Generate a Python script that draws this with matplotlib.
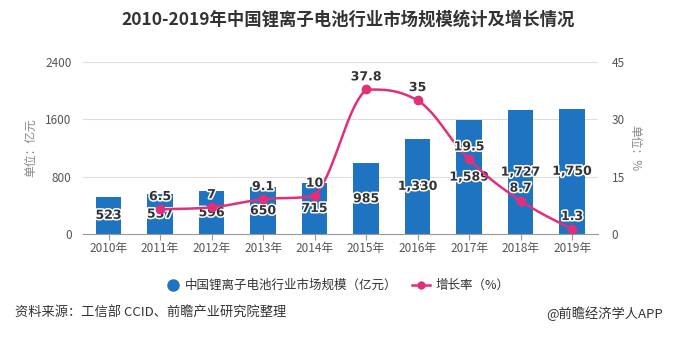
import numpy as np
import matplotlib.pyplot as plt
import matplotlib.patheffects as pe

plt.rcParams['font.family'] = ['Noto Sans CJK SC', 'DejaVu Sans']

years = ['2010年', '2011年', '2012年', '2013年', '2014年',
         '2015年', '2016年', '2017年', '2018年', '2019年']
market = [523, 557, 596, 650, 715, 985, 1330, 1589, 1727, 1750]
growth = [None, 6.5, 7, 9.1, 10, 37.8, 35, 19.5, 8.7, 1.3]

bar_color = '#1f74c2'
line_color = '#e0307a'
txt_color = '#555555'


def smooth_path(xs, ys, k=0.6, n=24):
    # smoothed display line, control points kept inside each segment's range
    px, py = [], []
    m = len(xs)
    for i in range(m - 1):
        x0, y0 = xs[max(i - 1, 0)], ys[max(i - 1, 0)]
        x1, y1 = xs[i], ys[i]
        x2, y2 = xs[i + 1], ys[i + 1]
        x3, y3 = xs[min(i + 2, m - 1)], ys[min(i + 2, m - 1)]
        lo, hi = min(y1, y2), max(y1, y2)
        c1 = (x1 + (x2 - x0) * k / 3, min(max(y1 + (y2 - y0) * k / 3, lo), hi))
        c2 = (x2 - (x3 - x1) * k / 3, min(max(y2 - (y3 - y1) * k / 3, lo), hi))
        t = np.linspace(0, 1, n)
        bx = (1 - t) ** 3 * x1 + 3 * (1 - t) ** 2 * t * c1[0] + 3 * (1 - t) * t ** 2 * c2[0] + t ** 3 * x2
        by = (1 - t) ** 3 * y1 + 3 * (1 - t) ** 2 * t * c1[1] + 3 * (1 - t) * t ** 2 * c2[1] + t ** 3 * y2
        px.extend(bx)
        py.extend(by)
    return px, py


fig = plt.figure(figsize=(6.96, 3.52), dpi=100)
ax = fig.add_axes([0.119, 0.335, 0.74, 0.489])
ax2 = ax.twinx()

x = np.arange(len(years))
ax.bar(x, market, width=0.5, color=bar_color, zorder=2)
ax.set_xlim(-0.5, len(years) - 0.5)
ax.set_ylim(0, 2400)
ax.set_yticks([0, 800, 1600, 2400])
ax.grid(axis='y', color='#dddddd', linewidth=0.8, zorder=0)
ax.set_axisbelow(True)
for s in ['top', 'right', 'left']:
    ax.spines[s].set_visible(False)
ax.spines['bottom'].set_color('#999999')
ax.set_xticks(x)
ax.set_xticklabels(years)
ax.tick_params(axis='x', length=4, color='#999999', labelsize=8.5, labelcolor=txt_color, pad=2)
ax.tick_params(axis='y', length=0, labelsize=8.5, labelcolor=txt_color, pad=8)
ax.set_ylabel('单位：亿元', fontsize=8.5, color='#888888', labelpad=6)

outline = [pe.withStroke(linewidth=2.2, foreground='white')]
for xi, v in zip(x, market):
    ax.text(xi, v / 2, f'{v:,}', ha='center', va='center', fontsize=9,
            fontweight='bold', color='#333333', path_effects=outline, zorder=5,
            family='DejaVu Sans')

gx = [xi for xi, g in zip(x, growth) if g is not None]
gy = [g for g in growth if g is not None]
sx, sy = smooth_path(gx, gy)
ax2.plot(sx, sy, color=line_color, linewidth=1.8, zorder=3)
ax2.plot(gx, gy, 'o', color=line_color, markersize=6, zorder=4)
ax2.set_ylim(0, 45)
ax2.set_yticks([0, 15, 30, 45])
for s in ['top', 'right', 'left', 'bottom']:
    ax2.spines[s].set_visible(False)
ax2.tick_params(axis='y', length=0, labelsize=8.5, labelcolor=txt_color, pad=10)
ax2.set_ylabel('单位：%', fontsize=8.5, color='#888888', rotation=270, labelpad=12)
for xi, g in zip(gx, gy):
    ax2.text(xi, g + 1.6, f'{g:g}', ha='center', va='bottom', fontsize=9,
             fontweight='bold', color='#333333', path_effects=outline, zorder=6,
             family='DejaVu Sans')

fig.text(0.5, 0.945, '2010-2019年中国锂离子电池行业市场规模统计及增长情况',
         ha='center', va='center', fontsize=12.5, fontweight='bold', color='#333333')

# legend
fig.lines.append(plt.Line2D([0.248], [0.19], marker='o', markersize=8, color=bar_color,
                            transform=fig.transFigure, linestyle='none'))
fig.text(0.266, 0.19, '中国锂离子电池行业市场规模（亿元）', ha='left', va='center',
         fontsize=9, color='#333333')
fig.lines.append(plt.Line2D([0.592, 0.618], [0.19, 0.19], color=line_color, linewidth=1.8,
                            transform=fig.transFigure))
fig.lines.append(plt.Line2D([0.605], [0.19], marker='o', markersize=5, color=line_color,
                            transform=fig.transFigure, linestyle='none'))
fig.text(0.626, 0.19, '增长率（%）', ha='left', va='center', fontsize=9, color='#333333')

fig.text(0.022, 0.11, '资料来源：工信部 CCID、前瞻产业研究院整理', ha='left', va='center',
         fontsize=9.5, color='#333333')
fig.text(0.952, 0.11, '@前瞻经济学人APP', ha='right', va='center',
         fontsize=9.5, color='#333333')

fig.savefig('out.png', dpi=100)
